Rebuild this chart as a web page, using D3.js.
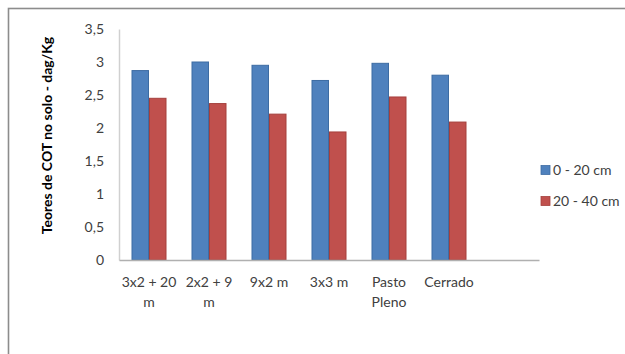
<!DOCTYPE html>
<html><head><meta charset="utf-8">
<script src="https://cdn.jsdelivr.net/npm/d3@7"></script>
<style>
html,body{margin:0;padding:0;background:#fff;}
svg{display:block;font-family:Lato,"Open Sans",sans-serif;}
</style></head>
<body>
<svg id="chart" width="625" height="354"></svg>
<script>
const categories = ["3x2 + 20 m", "2x2 + 9 m", "9x2 m", "3x3 m", "Pasto Pleno", "Cerrado", ""];
const categoryLines = [["3x2 + 20","m"],["2x2 + 9","m"],["9x2 m"],["3x3 m"],["Pasto","Pleno"],["Cerrado"],[]];
const series = ["0 - 20 cm", "20 - 40 cm"];
const values0_20 = [2.87, 3.00, 2.95, 2.72, 2.98, 2.80];
const values20_40 = [2.45, 2.37, 2.21, 1.94, 2.47, 2.09];
const yTicks = [0, 0.5, 1, 1.5, 2, 2.5, 3, 3.5];
const yTitle = "Teores de COT no solo - dag/Kg";

const colors = ["#4F81BD", "#C0504D"];
const strokes = ["#3D6CA3", "#A5403D"];

(function(){
const svg = d3.select("#chart");
// outer frame
svg.append("rect").attr("x",8.5).attr("y",8.5).attr("width",640).attr("height",360)
  .attr("fill","none").attr("stroke","#8c8c8c").attr("stroke-width",1.6);

const pL = 119, pR = 539, pT = 29, pB = 260;
const x = d3.scaleBand().domain(categories.map((d,i)=>i)).range([pL,pR]).paddingInner(0).paddingOuter(0);
const y = d3.scaleLinear().domain([0,3.5]).range([pB, pT]);
const barW = 17.5;

const fmt = d => String(d).replace(".", ",");

// y axis
const yAxis = d3.axisLeft(y).tickValues(yTicks).tickFormat(fmt).tickSize(0).tickPadding(15);
const gy = svg.append("g").attr("transform",`translate(${pL},0)`).call(yAxis);
gy.select(".domain").attr("stroke","#d0d0d0").attr("stroke-width",1.5);
gy.selectAll("text").attr("font-size",14).attr("fill","#404040").attr("font-family","Lato, sans-serif");

// bars
const data = values0_20.map((v,i)=>({i, vals:[v, values20_40[i]]}));
const groups = svg.append("g").selectAll("g").data(data).join("g");
groups.each(function(d){
  const g = d3.select(this);
  const cx = x(d.i) + x.bandwidth()/2;
  d.vals.forEach((v,k)=>{
    g.append("rect")
      .attr("x", cx - barW + k*barW + 0.5)
      .attr("y", y(v))
      .attr("width", barW - 1)
      .attr("height", y(0)-y(v))
      .attr("fill", colors[k])
      .attr("stroke", strokes[k]).attr("stroke-width",1);
  });
});

// x axis
const xAxis = d3.axisBottom(x).tickSize(0).tickFormat("");
const gx = svg.append("g").attr("transform",`translate(0,${pB})`).call(xAxis);
gx.select(".domain").attr("stroke","#b0b0b0").attr("stroke-width",1.5);
categoryLines.forEach((lines,i)=>{
  const cx = x(i) + x.bandwidth()/2;
  lines.forEach((t,j)=>{
    svg.append("text").attr("x",cx).attr("y",pB+27+j*20)
      .attr("text-anchor","middle").attr("font-size",14).attr("fill","#404040").text(t);
  });
});

// y title
svg.append("text").attr("transform",`translate(52,${(33+238)/2}) rotate(-90)`)
  .attr("text-anchor","middle").attr("font-size",14).attr("font-weight","bold")
  .attr("fill","#000").text(yTitle);

// legend
const legend = svg.append("g");
series.forEach((s,k)=>{
  const ly = 170 + k*31;
  legend.append("rect").attr("x",541).attr("y",ly-4.5).attr("width",9).attr("height",9)
    .attr("fill",colors[k]).attr("stroke",strokes[k]).attr("stroke-width",0.8);
  legend.append("text").attr("x",553).attr("y",ly).attr("dy","0.36em")
    .attr("font-size",14).attr("fill","#404040").text(s);
});
})();
</script>
</body></html>
